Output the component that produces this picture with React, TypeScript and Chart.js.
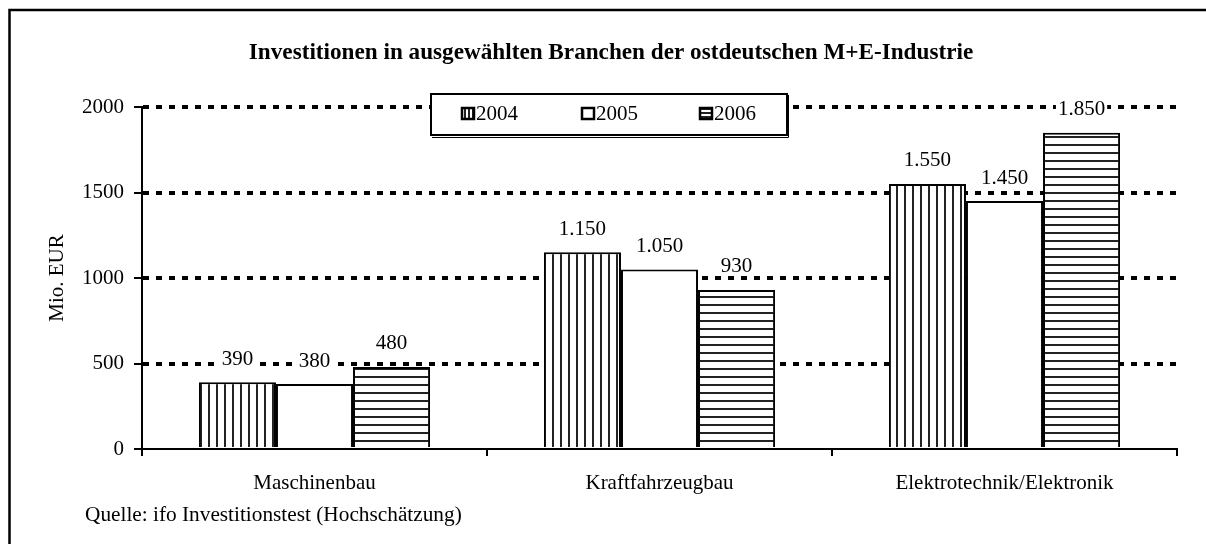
import React, { useEffect, useRef } from "react";
import { Chart, registerables } from "chart.js";

Chart.register(...registerables);

const TITLE = "Investitionen in ausgewählten Branchen der ostdeutschen M+E-Industrie";
const Y_TITLE = "Mio. EUR";
const SOURCE = "Quelle: ifo Investitionstest (Hochschätzung)";
const categories = ["Maschinenbau", "Kraftfahrzeugbau", "Elektrotechnik/Elektronik"];
const seriesNames = ["2004", "2005", "2006"];
const values2004 = [390, 1150, 1550];
const values2005 = [380, 1050, 1450];
const values2006 = [480, 930, 1850];
const yTicks = [0, 500, 1000, 1500, 2000];

const FONT = "'Liberation Serif', 'Times New Roman', serif";

function fmt(v: number): string {
  return String(Math.round(v)).replace(/\B(?=(\d{3})+(?!\d))/g, ".");
}

function makePattern(kind: string): CanvasPattern | string {
  if (kind === "none") return "#ffffff";
  const c = document.createElement("canvas");
  c.width = 8;
  c.height = 8;
  const g = c.getContext("2d")!;
  g.fillStyle = "#ffffff";
  g.fillRect(0, 0, 8, 8);
  g.fillStyle = "#222222";
  if (kind === "v") g.fillRect(0, 0, 2, 8);
  else g.fillRect(0, 0, 8, 2);
  const p = document.createElement("canvas").getContext("2d")!.createPattern(c, "repeat");
  return p || "#ffffff";
}

function makeSmallPattern(kind: string): CanvasPattern | string {
  if (kind === "none") return "#ffffff";
  const c = document.createElement("canvas");
  c.width = 4;
  c.height = 4;
  const g = c.getContext("2d")!;
  g.fillStyle = "#ffffff";
  g.fillRect(0, 0, 4, 4);
  g.fillStyle = "#222222";
  if (kind === "v") g.fillRect(0, 0, 2, 4);
  else g.fillRect(0, 0, 4, 2);
  const p = document.createElement("canvas").getContext("2d")!.createPattern(c, "repeat");
  return p || "#ffffff";
}

export default function App() {
  const ref = useRef<HTMLCanvasElement | null>(null);

  useEffect(() => {
    const canvas = ref.current!;
    const fills = [makePattern("v"), makePattern("none"), makePattern("h")];
    const legendFills = [makeSmallPattern("v"), makeSmallPattern("none"), makeSmallPattern("h")];
    const data = [values2004, values2005, values2006];

    const decor = {
      id: "decor",
      afterDatasetsDraw(chart: any) {
        const ctx = chart.ctx as CanvasRenderingContext2D;
        ctx.save();
        ctx.font = `21px ${FONT}`;
        ctx.textAlign = "center";
        ctx.textBaseline = "middle";
        chart.data.datasets.forEach((ds: any, di: number) => {
          const meta = chart.getDatasetMeta(di);
          meta.data.forEach((bar: any, i: number) => {
            const txt = fmt(ds.data[i]);
            const w = ctx.measureText(txt).width;
            const cy = bar.y - 24;
            ctx.fillStyle = "#ffffff";
            ctx.fillRect(bar.x - w / 2 - 2, cy - 10, w + 4, 20);
            ctx.fillStyle = "#000000";
            ctx.fillText(txt, bar.x, cy + 1);
          });
        });
        // small tick stubs crossing the y axis
        const ys = chart.scales.y;
        const xl = chart.chartArea.left;
        ctx.strokeStyle = "#000";
        ctx.lineWidth = 2;
        yTicks.forEach((v) => {
          const py = Math.round(ys.getPixelForValue(v));
          ctx.beginPath();
          ctx.moveTo(xl, py);
          ctx.lineTo(xl + 4, py);
          ctx.stroke();
        });
        ctx.restore();
      },
      afterDraw(chart: any) {
        const ctx = chart.ctx as CanvasRenderingContext2D;
        ctx.save();
        // outer frame
        ctx.strokeStyle = "#000";
        ctx.lineWidth = 2.5;
        ctx.beginPath();
        ctx.moveTo(9.5, 544);
        ctx.lineTo(9.5, 10);
        ctx.lineTo(1206, 10);
        ctx.stroke();
        // title
        ctx.fillStyle = "#000";
        ctx.font = `bold 23.2px ${FONT}`;
        ctx.textAlign = "center";
        ctx.textBaseline = "middle";
        ctx.fillText(TITLE, 611, 53);
        // y title
        ctx.font = `21px ${FONT}`;
        ctx.save();
        ctx.translate(57, 278);
        ctx.rotate(-Math.PI / 2);
        ctx.fillText(Y_TITLE, 0, 0);
        ctx.restore();
        // source
        ctx.textAlign = "left";
        ctx.font = `21.3px ${FONT}`;
        ctx.fillText(SOURCE, 85, 515);
        // legend
        ctx.fillStyle = "#fff";
        ctx.fillRect(430, 93, 358, 43);
        ctx.strokeStyle = "#000";
        ctx.lineWidth = 2;
        ctx.strokeRect(431, 94, 356, 41);
        ctx.lineWidth = 1;
        ctx.beginPath();
        ctx.moveTo(788.5, 95);
        ctx.lineTo(788.5, 137.5);
        ctx.lineTo(432, 137.5);
        ctx.stroke();
        const lx = [461, 581, 699];
        seriesNames.forEach((name, i) => {
          ctx.fillStyle = legendFills[i] as any;
          ctx.fillRect(lx[i], 107, 14, 13);
          ctx.lineWidth = 2.5;
          ctx.strokeStyle = "#000";
          ctx.strokeRect(lx[i] + 1, 108, 12, 11);
          ctx.fillStyle = "#000";
          ctx.textAlign = "left";
          ctx.textBaseline = "middle";
          ctx.font = `21px ${FONT}`;
          ctx.fillText(name, lx[i] + 15, 114);
        });
        ctx.restore();
      },
    };

    const chart = new Chart(canvas, {
      type: "bar",
      data: {
        labels: categories,
        datasets: seriesNames.map((name, i) => ({
          label: name,
          data: data[i],
          backgroundColor: fills[i] as any,
          borderColor: "#000",
          borderWidth: 2,
          borderSkipped: "bottom",
          categoryPercentage: 0.67,
          barPercentage: 1.0,
        })),
      },
      options: {
        responsive: false,
        animation: false,
        events: [],
        layout: { padding: { top: 107, right: 29, bottom: 0, left: 0 } },
        plugins: {
          legend: { display: false },
          title: { display: false },
          tooltip: { enabled: false },
        },
        scales: {
          x: {
            afterFit: (s: any) => {
              s.height = 95;
            },
            border: { display: true, color: "#000", width: 2 },
            grid: {
              display: true,
              drawOnChartArea: false,
              drawTicks: true,
              tickLength: 7,
              color: "#000",
              lineWidth: 2,
              offset: true,
            },
            ticks: {
              color: "#000",
              font: { family: FONT, size: 21 },
              padding: 15,
            },
          },
          y: {
            min: 0,
            max: 2000,
            afterFit: (s: any) => {
              s.width = 142;
            },
            afterBuildTicks: (s: any) => {
              s.ticks = yTicks.map((v) => ({ value: v }));
            },
            border: { display: true, color: "#000", width: 2, dash: [6, 7] },
            grid: {
              color: (c: any) => (c.tick && c.tick.value === 0 ? "rgba(0,0,0,0)" : "#000"),
              lineWidth: 4,
              tickLength: 8,
              tickColor: "#000",
              tickWidth: 2,
              tickBorderDash: [],
            } as any,
            ticks: {
              color: "#000",
              font: { family: FONT, size: 21 },
              padding: 10,
              callback: (v: any) => String(v),
            },
          },
        },
      },
      plugins: [decor],
    } as any);

    return () => chart.destroy();
  }, []);

  return (
    <div style={{ position: "fixed", left: 0, top: 0, width: 1206, height: 544, background: "#fff" }}>
      <canvas ref={ref} width={1206} height={544} style={{ display: "block" }} />
    </div>
  );
}
